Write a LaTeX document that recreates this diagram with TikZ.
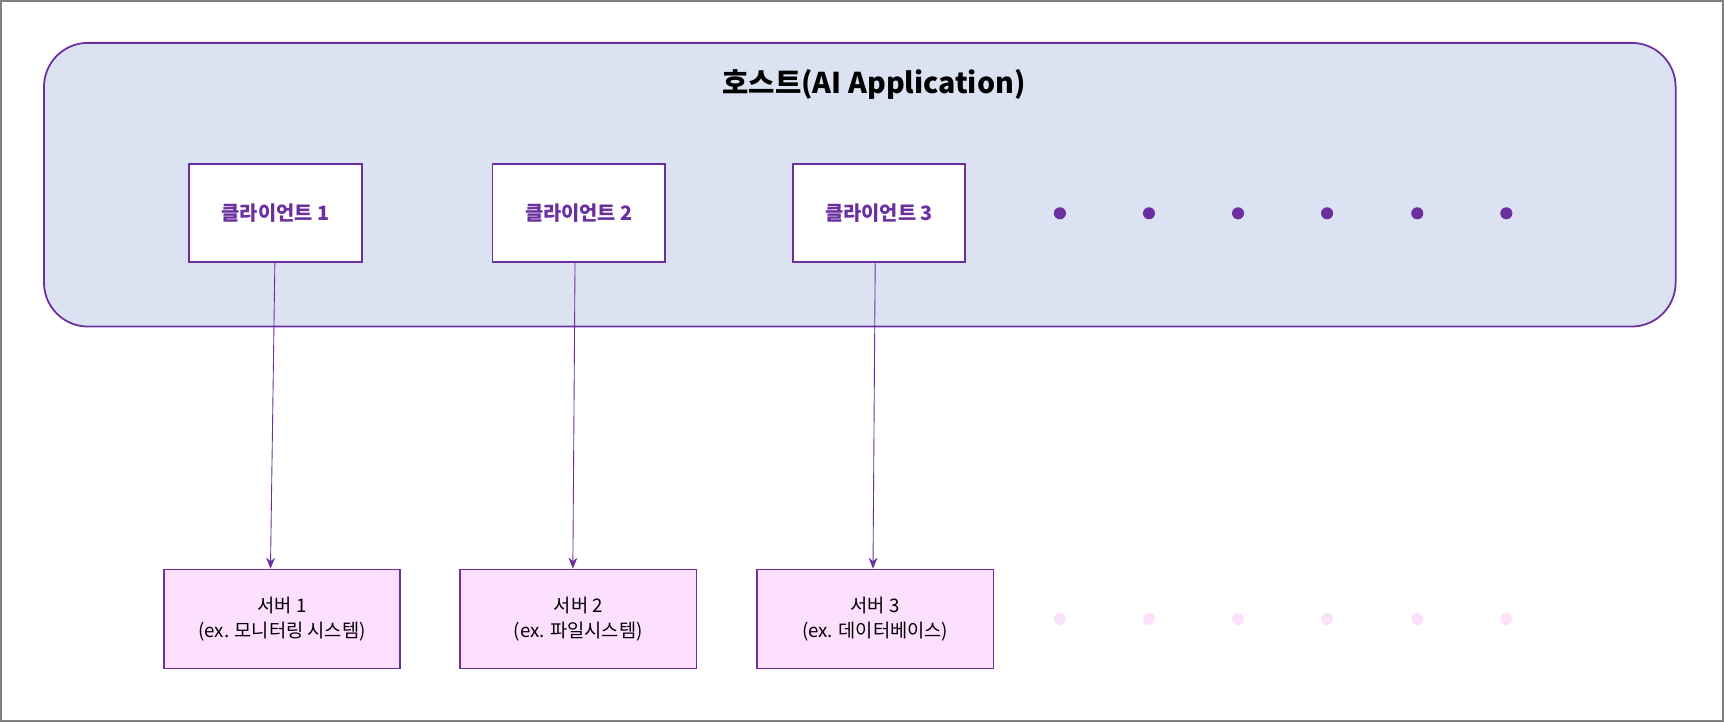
\documentclass[tikz,border=0pt]{standalone}
\usetikzlibrary{arrows.meta}
\usepackage{fontspec}
\setmainfont{Noto Sans CJK KR}
\begin{document}
\begin{tikzpicture}[x=0.5pt,y=-0.5pt,
  pur/.style={draw=purp,line width=0.8pt},
  client/.style={pur,fill=white,minimum width=78.5pt,minimum height=44.5pt,font=\bfseries\fontsize{9}{11}\selectfont,text=purp},
  server/.style={pur,fill=srv,minimum width=107.5pt,minimum height=45pt,font=\fontsize{8.5}{11}\selectfont,align=center},
  arr/.style={draw=purp,line width=0.4pt,-{Stealth[length=5pt,width=4pt]}}]
\definecolor{purp}{HTML}{6B2FA0}
\definecolor{hostc}{HTML}{DBE3F2}
\definecolor{srv}{HTML}{FDE0FD}
\definecolor{pale}{HTML}{FBE2FB}
\useasboundingbox (0,0) rectangle (1568,657);
\draw[gray,line width=0.8pt] (1,1) rectangle (1567,656);
\draw[pur,fill=hostc,rounded corners=20pt] (40,39) rectangle (1524,297);
\node[font=\bfseries\fontsize{13}{15}\selectfont] (title) at (795,77) {호스트(AI Application)};
\node[client] (c1) at (250.5,193.5) {클라이언트 1};
\node[client] (c2) at (526.5,193.5) {클라이언트 2};
\node[client] (c3) at (799.5,193.5) {클라이언트 3};
\foreach \x in {964,1045,1126,1207,1289,1370}{
  \fill[purp] (\x,194) circle (5.5);
  \fill[pale] (\x,563) circle (5.5);}
\node[server] (s1) at (256.5,563) {서버 1\\(ex. 모니터링 시스템)};
\node[server] (s2) at (526,563) {서버 2\\(ex. 파일시스템)};
\node[server] (s3) at (796,563) {서버 3\\(ex. 데이터베이스)};
\draw[arr] ([xshift=-0.25pt]c1.south) -- ([xshift=-5.25pt]s1.north);
\draw[arr] ([xshift=-1.75pt]c2.south) -- ([xshift=-2.5pt]s2.north);
\draw[arr] ([xshift=-1.75pt]c3.south) -- ([xshift=-1pt]s3.north);
\end{tikzpicture}
\end{document}
